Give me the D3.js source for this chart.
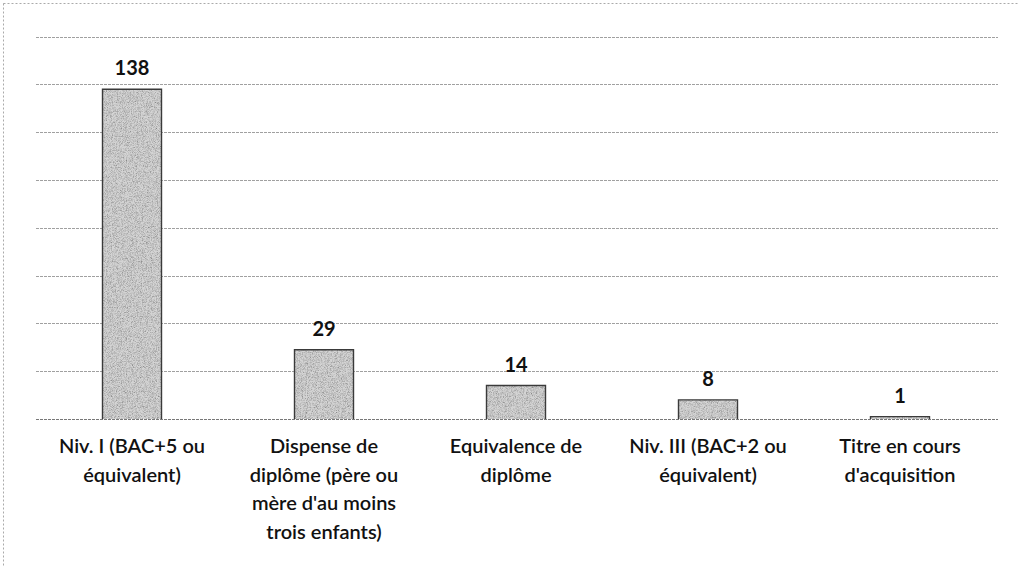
<!DOCTYPE html>
<html><head><meta charset="utf-8">
<script src="https://cdn.jsdelivr.net/npm/d3@7"></script>
<style>
html,body{margin:0;padding:0;background:#fff;}
svg{display:block;}
</style></head>
<body>
<svg id="chart" width="1018" height="567"></svg>
<script>
const categories = [
  ["Niv. I (BAC+5 ou", "équivalent)"],
  ["Dispense de", "diplôme (père ou", "mère d'au moins", "trois enfants)"],
  ["Equivalence de", "diplôme"],
  ["Niv. III (BAC+2 ou", "équivalent)"],
  ["Titre en cours", "d'acquisition"]
];
const values = [138, 29, 14, 8, 1];
const yTicks = [0, 20, 40, 60, 80, 100, 120, 140, 160];

const svg = d3.select("#chart");
const W = 1018, H = 567;
const margin = {left: 36, right: 22, top: 36, bottom: 148};

const defs = svg.append("defs");
const f = defs.append("filter").attr("id", "grain").attr("x", 0).attr("y", 0).attr("width", 1).attr("height", 1);
f.append("feTurbulence").attr("type", "fractalNoise").attr("baseFrequency", 1.2).attr("numOctaves", 2).attr("seed", 3).attr("result", "n");
f.append("feColorMatrix").attr("in", "n").attr("type", "saturate").attr("values", 0).attr("result", "g");
const ct = f.append("feComponentTransfer").attr("in", "g").attr("result", "gs");
ct.append("feFuncR").attr("type", "linear").attr("slope", 1.6).attr("intercept", 0.05);
ct.append("feFuncG").attr("type", "linear").attr("slope", 1.6).attr("intercept", 0.05);
ct.append("feFuncB").attr("type", "linear").attr("slope", 1.6).attr("intercept", 0.05);
ct.append("feFuncA").attr("type", "linear").attr("slope", 0).attr("intercept", 1);
f.append("feBlend").attr("in", "SourceGraphic").attr("in2", "gs").attr("mode", "multiply").attr("result", "b");
f.append("feComposite").attr("in", "b").attr("in2", "SourceGraphic").attr("operator", "in");

// outer frame (dotted, partly visible)
svg.append("rect").attr("x", 3.5).attr("y", 3.5).attr("width", W + 10).attr("height", H + 10)
  .attr("fill", "none").attr("stroke", "#aaa").attr("stroke-width", 1).attr("stroke-dasharray", "2,2");

const x = d3.scaleBand()
  .domain(d3.range(categories.length))
  .range([margin.left, W - margin.right])
  .paddingInner(0.6875).paddingOuter(0.34375);

const y = d3.scaleLinear().domain([0, 160]).range([419, 36.6]);

// gridlines
svg.append("g").selectAll("line").data(yTicks).join("line")
  .attr("x1", margin.left).attr("x2", W - margin.right + 2)
  .attr("y1", d => Math.round(y(d)) + 0.5).attr("y2", d => Math.round(y(d)) + 0.5)
  .attr("stroke", d => d === 0 ? "#777" : "#a0a0a0")
  .attr("stroke-width", 1)
  .attr("stroke-dasharray", "3,1");

// bars
svg.append("g").selectAll("rect").data(values).join("rect")
  .attr("x", (d, i) => x(i))
  .attr("y", d => y(d))
  .attr("width", x.bandwidth())
  .attr("height", d => y(0) - y(d))
  .attr("fill", "#d4d4d4")
  .attr("filter", "url(#grain)");
svg.append("g").selectAll("path").data(values).join("path")
  .attr("d", (d, i) => {
    const x0 = x(i) + 0.5, x1 = x(i) + x.bandwidth() - 0.5, yt = y(d), yb = y(0);
    return `M${x0},${yb}V${yt}H${x1}V${yb}`;
  })
  .attr("fill", "none").attr("stroke", "#3a3a3a").attr("stroke-width", 1.4);

// value labels
svg.append("g").selectAll("text").data(values).join("text")
  .attr("x", (d, i) => x(i) + x.bandwidth() / 2)
  .attr("y", d => y(d) - 14)
  .attr("text-anchor", "middle")
  .attr("font-family", "Lato, 'Open Sans', sans-serif")
  .attr("font-size", 20)
  .attr("font-weight", 700)
  .attr("fill", "#111")
  .text(d => d);

// category labels
const lab = svg.append("g").selectAll("text").data(categories).join("text")
  .attr("x", (d, i) => x(i) + x.bandwidth() / 2)
  .attr("y", 453)
  .attr("text-anchor", "middle")
  .attr("font-family", "Lato, 'Open Sans', sans-serif")
  .attr("font-size", 20)
  .attr("font-weight", 600)
  .attr("fill", "#111");
lab.selectAll("tspan").data(d => d).join("tspan")
  .attr("x", function() { return d3.select(this.parentNode).attr("x"); })
  .attr("dy", (d, j) => j === 0 ? 0 : 28.5)
  .text(d => d);
</script>
</body></html>
